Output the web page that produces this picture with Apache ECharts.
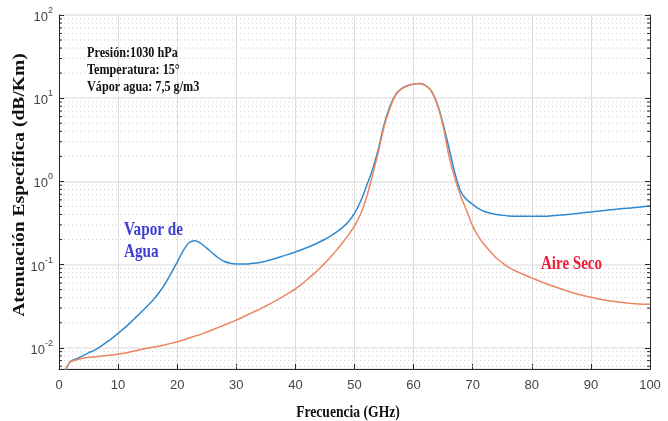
<!DOCTYPE html>
<html>
<head>
<meta charset="utf-8">
<script src="https://cdn.jsdelivr.net/npm/echarts@6/dist/echarts.min.js"></script>
<style>
  html, body { margin: 0; padding: 0; background: #fff; }
  #main { width: 668px; height: 421px; }
</style>
</head>
<body>
<div id="main"></div>
<script>
// frecuencia en GHz
var freq = [1, 1.5, 2,
    3, 4, 5, 6, 7, 8, 9, 10,
    11, 12, 13, 14, 15, 16, 17, 18, 19, 20,
    21, 22, 23, 24, 25, 26, 27, 28, 29, 30,
    31, 32, 33, 34, 35, 36, 37, 38, 39, 40,
    41, 42, 43, 44, 45, 46, 47, 48, 49, 50,
    51, 52, 53, 54, 55, 56, 57, 58, 59, 60,
    61, 62, 63, 64, 65, 66, 67, 68, 69, 70,
    71, 72, 73, 74, 75, 76, 77, 78, 79, 80,
    82, 84, 86, 88, 90, 92, 94, 96, 98, 100];

// atenuacion especifica dB/Km (aire seco)
var aireSeco = [0.0052, 0.0062, 0.0068,
    0.0072, 0.0075, 0.0077, 0.0078, 0.0079, 0.0081, 0.0082, 0.0084,
    0.0086, 0.0089, 0.0092, 0.0096, 0.0099, 0.0102, 0.0105, 0.0109, 0.0113, 0.0118,
    0.0124, 0.0131, 0.0138, 0.0145, 0.0155, 0.0165, 0.0176, 0.0188, 0.0201, 0.0215,
    0.0232, 0.0251, 0.0271, 0.0292, 0.0318, 0.0347, 0.038, 0.0418, 0.046, 0.051,
    0.0578, 0.0661, 0.0762, 0.0887, 0.1045, 0.1245, 0.1503, 0.184, 0.229, 0.292,
    0.40, 0.63, 1.15, 2.2, 4.5, 7.6, 11.0, 13.0, 14.1, 14.8,
    15.0, 14.3, 12.2, 8.4, 4.6, 2.0, 1.08, 0.66, 0.44, 0.29,
    0.215, 0.172, 0.143, 0.12, 0.105, 0.093, 0.0855, 0.0794, 0.074, 0.0692,
    0.0605, 0.0537, 0.0482, 0.0438, 0.0405, 0.0378, 0.0359, 0.0345, 0.0337, 0.0334];

// atenuacion especifica dB/Km (aire seco + vapor de agua)
var vaporAgua = [0.0052, 0.0062, 0.0069,
    0.0074, 0.0080, 0.0087, 0.0093, 0.0103, 0.0116, 0.0131, 0.0149,
    0.0171, 0.0198, 0.0232, 0.0272, 0.032, 0.038, 0.0468, 0.0596, 0.0794, 0.107,
    0.146, 0.183, 0.193, 0.180, 0.158, 0.137, 0.120, 0.109, 0.104, 0.1018,
    0.1015, 0.102, 0.1035, 0.106, 0.11, 0.115, 0.121, 0.1274, 0.1343, 0.142,
    0.1507, 0.1603, 0.1718, 0.1858, 0.2018, 0.2218, 0.247, 0.2805, 0.33, 0.412,
    0.569, 0.87, 1.35, 2.4, 4.8, 8.0, 11.2, 13.1, 14.2, 14.8,
    15.0, 14.3, 12.2, 8.6, 4.9, 2.5, 1.25, 0.75, 0.60, 0.53,
    0.47, 0.435, 0.415, 0.40, 0.392, 0.385, 0.382, 0.38, 0.38, 0.38,
    0.381, 0.39, 0.40, 0.415, 0.43, 0.445, 0.46, 0.475, 0.49, 0.51];

var yMin = 0.00556;
var yMax = 100;

// valores de la rejilla menor (2..9 por decada)
var minorVals = [];
for (var e = -3; e < 2; e++) {
    for (var m = 2; m <= 9; m++) {
        var v = m * Math.pow(10, e);
        if (v > yMin && v < yMax) minorVals.push([0, v]);
    }
}

function pares(ys) {
    return freq.map(function(f, i) { return [f, ys[i]]; });
}

var chart = echarts.init(document.getElementById('main'));

var serifBold = 'bold 14px "Liberation Serif"';
var sansNarrow = '"Liberation Sans Narrow", "Liberation Sans", sans-serif';

var option = {
    animation: false,
    grid: { left: 59, right: 18, top: 15, bottom: 52 },
    xAxis: {
        type: 'value',
        min: 0,
        max: 100,
        interval: 10,
        axisLine: { lineStyle: { color: '#262626', width: 1 } },
        axisTick: { inside: true, length: 5, lineStyle: { color: '#262626' } },
        axisLabel: { margin: 10, color: '#444', fontSize: 13, fontFamily: sansNarrow },
        splitLine: { show: true, lineStyle: { color: '#dedede', width: 1 } }
    },
    yAxis: [{
        type: 'log',
        logBase: 10,
        min: yMin,
        max: yMax,
        axisLine: { show: true, lineStyle: { color: '#262626', width: 1 } },
        axisTick: { inside: true, length: 5, lineStyle: { color: '#262626' } },
        axisLabel: {
            margin: 6,
            color: '#444',
            formatter: function(val) {
                var p = Math.log10(val);
                if (Math.abs(p - Math.round(p)) > 0.01) return '';
                return '{b|10}{s|' + Math.round(p) + '}';
            },
            rich: {
                b: { fontSize: 13, fontFamily: sansNarrow, color: '#444', verticalAlign: 'bottom', lineHeight: 18 },
                s: { fontSize: 9, fontFamily: sansNarrow, color: '#444', verticalAlign: 'top', lineHeight: 18 }
            }
        },
        splitLine: { show: true, lineStyle: { color: '#e4e4e4', width: 1.5 } }
    }, {
        type: 'log',
        logBase: 10,
        min: yMin,
        max: yMax,
        position: 'right',
        axisLine: { show: true, lineStyle: { color: '#262626', width: 1 } },
        axisTick: { inside: true, length: 5, lineStyle: { color: '#262626' } },
        axisLabel: { show: false },
        splitLine: { show: false }
    }],
    series: [{
        // rejilla menor punteada y marcas menores
        type: 'custom',
        silent: true,
        z: 1,
        data: minorVals,
        renderItem: function(params, api) {
            var a = api.coord([0, api.value(1)]);
            var b = api.coord([100, api.value(1)]);
            return {
                type: 'group',
                children: [{
                    type: 'line',
                    shape: { x1: a[0] + 1, y1: a[1], x2: b[0] - 1, y2: b[1] },
                    style: { stroke: '#cfcfcf', lineWidth: 1, lineDash: [1, 3] }
                }, {
                    type: 'line',
                    shape: { x1: a[0], y1: a[1], x2: a[0] + 3, y2: a[1] },
                    style: { stroke: '#262626', lineWidth: 1 }
                }, {
                    type: 'line',
                    shape: { x1: b[0], y1: b[1], x2: b[0] - 3, y2: b[1] },
                    style: { stroke: '#262626', lineWidth: 1 }
                }]
            };
        }
    }, {
        name: 'Vapor de Agua',
        type: 'line',
        data: pares(vaporAgua),
        showSymbol: false,
        smooth: 0.3,
        z: 3,
        lineStyle: { color: '#3089cf', width: 1.5 }
    }, {
        name: 'Aire Seco',
        type: 'line',
        data: pares(aireSeco),
        showSymbol: false,
        smooth: 0.3,
        z: 4,
        lineStyle: { color: '#ec8662', width: 1.5 }
    }],
    graphic: [
        { type: 'text', z: 100, x: 87, y: 53, scaleX: 0.87, style: { text: 'Presión:1030 hPa', font: serifBold, fill: '#111', verticalAlign: 'middle' } },
        { type: 'text', z: 100, x: 87, y: 70, scaleX: 0.87, style: { text: 'Temperatura: 15°', font: serifBold, fill: '#111', verticalAlign: 'middle' } },
        { type: 'text', z: 100, x: 87, y: 87, scaleX: 0.87, style: { text: 'Vápor agua: 7,5 g/m3', font: serifBold, fill: '#111', verticalAlign: 'middle' } },
        { type: 'text', z: 100, x: 124, y: 230, scaleX: 0.8, style: { text: 'Vapor de', font: 'bold 19px "Liberation Serif"', fill: '#3d3dd2', verticalAlign: 'middle' } },
        { type: 'text', z: 100, x: 124, y: 252, scaleX: 0.8, style: { text: 'Agua', font: 'bold 19px "Liberation Serif"', fill: '#3d3dd2', verticalAlign: 'middle' } },
        { type: 'text', z: 100, x: 541, y: 264, scaleX: 0.79, style: { text: 'Aire Seco', font: 'bold 19px "Liberation Serif"', fill: '#ee1c3a', verticalAlign: 'middle' } },
        { type: 'text', z: 100, x: 348, y: 413, scaleX: 0.8, style: { text: 'Frecuencia (GHz)', font: 'bold 17px "Liberation Serif"', fill: '#111', align: 'center', verticalAlign: 'middle' } },
        { type: 'text', z: 100, x: 20, y: 185, rotation: Math.PI / 2, scaleX: 1.22, style: { text: 'Atenuación Específica (dB/Km)', font: 'bold 16px "Liberation Serif"', fill: '#111', align: 'center', verticalAlign: 'middle' } }
    ]
};

chart.setOption(option);
</script>
</body>
</html>
